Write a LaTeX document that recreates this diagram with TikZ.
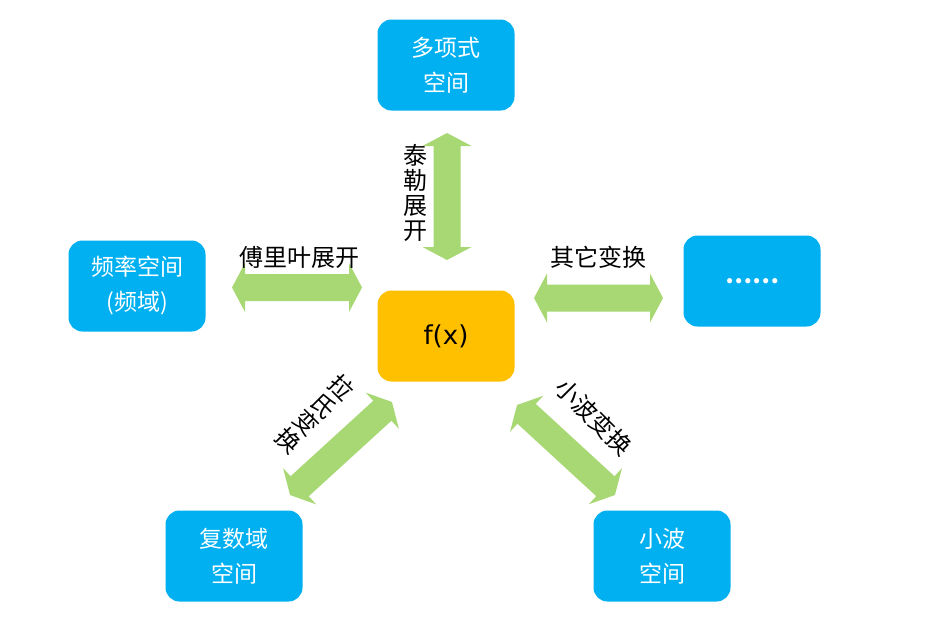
\documentclass[tikz,border=0pt]{standalone}
\usepackage{fontspec}
\setmainfont{Noto Sans CJK SC}
\newfontfamily\latinfont{DejaVu Sans}
\usetikzlibrary{calc}

\definecolor{boxblue}{RGB}{0,176,240}
\definecolor{boxorange}{RGB}{255,192,0}
\definecolor{arrowgreen}{RGB}{168,216,115}

\tikzset{
  space/.style={rounded corners=14pt, fill=boxblue, minimum width=137pt,
    minimum height=91pt, text=white, font=\fontsize{23}{35}\selectfont,
    align=center, inner sep=0pt},
  core/.style={space, fill=boxorange, text=black},
  lbl/.style={font=\fontsize{24}{25}\selectfont, inner sep=0pt, align=center},
  twoway/.style={fill=arrowgreen}
}

% two-headed block arrow: centre, angle, half length
\newcommand\twowayarrow[3]{%
  \begin{scope}[shift={(#1)}, rotate=#2]
    \fill[twoway] (-#3,0) -- (-#3+13,24.5) -- (-#3+13,13.5) -- (#3-13,13.5)
      -- (#3-13,24.5) -- (#3,0) -- (#3-13,-24.5) -- (#3-13,-13.5)
      -- (-#3+13,-13.5) -- (-#3+13,-24.5) -- cycle;
  \end{scope}}

\begin{document}
\begin{tikzpicture}[x=1pt, y=-1pt]
  \fill[white] (0,0) rectangle (931,632);
  \useasboundingbox (0,0) rectangle (931,632);

  % spaces
  \node[space] (poly)    at (446,65)  {多项式\\空间};
  \node[space] (freq)    at (137,286) {频率空间\\(频域)};
  \node[core, font=\latinfont\fontsize{26}{30}\selectfont] (fx) at (446,336) {f(x)};
  \node[space, font=\bfseries\fontsize{24}{30}\selectfont] (more) at (752,281) {……};
  \node[space] (complex) at (234,556) {复数域\\空间};
  \node[space] (wave)    at (662,556) {小波\\空间};

  % arrow centres
  \coordinate (aTaylor)  at (447,196.5);
  \coordinate (aFourier) at (297,287.5);
  \coordinate (aOther)   at (598.5,298);
  \coordinate (aLaplace) at (341,448.5);
  \coordinate (aWavelet) at (566,450);

  \twowayarrow{aTaylor}{90}{63.5}
  \twowayarrow{aFourier}{0}{65}
  \twowayarrow{aOther}{0}{64.5}
  \twowayarrow{aLaplace}{42.4}{69}
  \twowayarrow{aWavelet}{-42.6}{66.5}

  % transform labels
  \node[lbl] (taylor)  at (415,193) {泰\\勒\\展\\开};
  \node[lbl] (fourier) at (299,257) {傅里叶展开};
  \node[lbl] (other)   at (598,257) {其它变换};
  \node[lbl, rotate=-45] (laplace) at (315,414) {拉\\氏\\变\\换};
  \node[lbl, rotate=-45] (wavelet) at (594,417) {小波变换};
\end{tikzpicture}
\end{document}
